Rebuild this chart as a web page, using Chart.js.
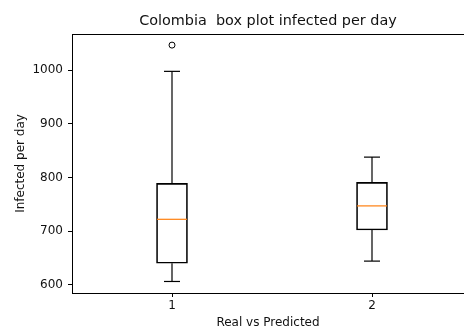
<!DOCTYPE html>
<html>
<head>
<meta charset="utf-8">
<script src="https://cdn.jsdelivr.net/npm/chart.js@4.4.0/dist/chart.umd.min.js"></script>
<style>
  html, body { margin: 0; padding: 0; overflow: hidden; background: #fff; }
  canvas { display: block; }
</style>
</head>
<body>
<canvas id="grafico" width="464" height="331"></canvas>
<script>
// dati del box plot
const titolo = 'Colombia  box plot infected per day';
const categorie = ['1', '2'];
const posizioni = [1, 2];
const baffoBasso = [606, 644];
const q1 = [640, 702];
const mediana = [722, 747];
const q3 = [789, 791];
const baffoAlto = [998, 838];
const outlier = [[1047], []];
const tickY = [600, 700, 800, 900, 1000];

const nero = '#000';
const arancio = '#ff7f0e';

// scatole come barre fluttuanti
const scatole = {
  type: 'bar',
  data: posizioni.map((p, i) => ({ x: p, y: [q1[i], q3[i]] })),
  backgroundColor: 'rgba(0,0,0,0)',
  borderColor: nero,
  borderWidth: 1,
  borderSkipped: false,
  barThickness: 31,
  order: 2
};

// baffi verticali
let baffi = [];
for (let i = 0; i < posizioni.length; i++) {
  baffi.push({
    type: 'line',
    data: [{ x: posizioni[i], y: q1[i] }, { x: posizioni[i], y: baffoBasso[i] }],
    borderColor: nero, borderWidth: 1.2, pointRadius: 0
  });
  baffi.push({
    type: 'line',
    data: [{ x: posizioni[i], y: q3[i] }, { x: posizioni[i], y: baffoAlto[i] }],
    borderColor: nero, borderWidth: 1.2, pointRadius: 0
  });
}

// cappucci dei baffi
let cappucci = [];
for (let i = 0; i < posizioni.length; i++) {
  cappucci.push({ x: posizioni[i], y: baffoBasso[i] });
  cappucci.push({ x: posizioni[i], y: baffoAlto[i] });
}

const puntiOutlier = [];
outlier.forEach((lista, i) => lista.forEach(v => puntiOutlier.push({ x: posizioni[i], y: v })));

Chart.defaults.font.family = 'DejaVu Sans';
Chart.defaults.font.size = 12;
Chart.defaults.color = '#111';

new Chart(document.getElementById('grafico'), {
  type: 'bar',
  data: {
    datasets: [
      scatole,
      ...baffi,
      {
        type: 'line', showLine: false, data: cappucci,
        pointStyle: 'line', pointRadius: 8, pointBorderColor: nero, pointBorderWidth: 1.2
      },
      {
        type: 'line', showLine: false,
        data: posizioni.map((p, i) => ({ x: p, y: mediana[i] })),
        pointStyle: 'line', pointRadius: 15, pointBorderColor: arancio, pointBorderWidth: 1.2
      },
      {
        type: 'line', showLine: false, data: puntiOutlier,
        pointStyle: 'circle', pointRadius: 3, pointBackgroundColor: 'rgba(0,0,0,0)',
        pointBorderColor: nero, pointBorderWidth: 1
      }
    ]
  },
  options: {
    responsive: false,
    animation: false,
    events: [],
    layout: { padding: 0, autoPadding: false },
    plugins: {
      legend: { display: false },
      tooltip: { enabled: false },
      title: { display: false }
    },
    scales: {
      x: {
        type: 'linear',
        min: 0.5,
        max: 2.46,
        offset: false,
        afterBuildTicks: s => { s.ticks = posizioni.map(v => ({ value: v })); },
        afterFit: s => { s.height = 38; },
        ticks: {
          callback: (v) => categorie[posizioni.indexOf(v)],
          padding: 2,
          maxRotation: 0
        },
        grid: { offset: false, drawOnChartArea: false, drawTicks: true, tickLength: 4, color: nero },
        border: { display: true, color: nero, width: 1 },
        title: { display: true, text: 'Real vs Predicted', padding: { top: 0, bottom: 1 } }
      },
      // asse in alto: fa da bordo superiore e porta il titolo centrato sull'area del grafico
      xTop: {
        type: 'linear',
        position: 'top',
        min: 0.5,
        max: 2.46,
        afterFit: s => { s.height = 34; },
        ticks: { display: false },
        grid: { drawOnChartArea: false, drawTicks: false },
        border: { display: true, color: nero, width: 1 },
        title: { display: true, text: titolo, font: { size: 14.4 }, padding: { top: 13, bottom: 0 } }
      },
      y: {
        min: 584.5,
        max: 1067.7,
        afterBuildTicks: s => { s.ticks = tickY.map(v => ({ value: v })); },
        afterFit: s => { s.width = 72; },
        ticks: { padding: 5, callback: v => String(v) },
        grid: { drawOnChartArea: false, drawTicks: true, tickLength: 4, color: nero },
        border: { display: true, color: nero, width: 1 },
        title: { display: true, text: 'Infected per day', padding: { top: 14, bottom: 0 } }
      }
    }
  }
});
</script>
</body>
</html>
